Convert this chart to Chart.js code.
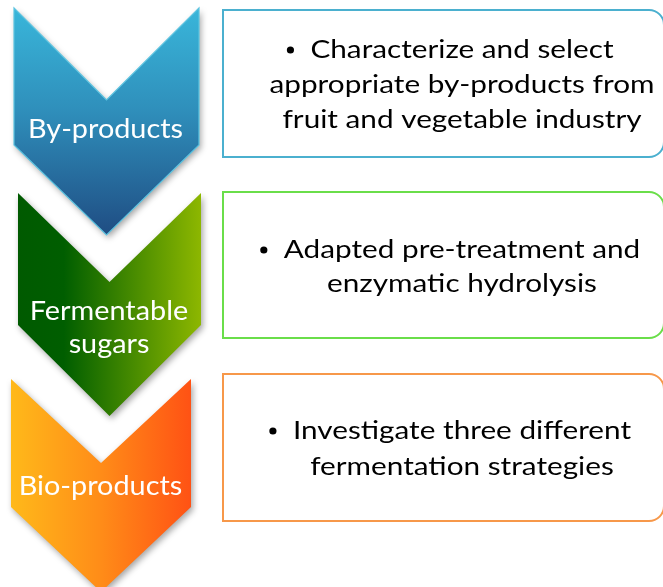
<!DOCTYPE html>
<html>
<head>
<meta charset="utf-8">
<script src="https://cdn.jsdelivr.net/npm/chart.js@4.4.1/dist/chart.umd.min.js"></script>
<style>
  html, body { margin: 0; padding: 0; background: #ffffff; }
  #wrap { width: 663px; height: 587px; position: relative; }
</style>
</head>
<body>
<div id="wrap"><canvas id="c" width="663" height="587"></canvas></div>
<script>
// ---- content (data) ----
const stages = ["By-products", "Fermentable sugars", "Bio-products"];
const stageLabelLines = [["By-products"], ["Fermentable", "sugars"], ["Bio-products"]];
const descriptions = [
  ["Characterize and select", "appropriate by-products from", "fruit and vegetable industry"],
  ["Adapted pre-treatment and", "enzymatic hydrolysis"],
  ["Investigate three different", "fermentation strategies"]
];

// ---- layout (axis units, y grows downward) ----
const chevronLeft     = [14, 18, 11];
const chevronRight    = [199, 201, 191];
const chevronTop      = [8, 193, 379];
const chevronNotch    = [100, 282, 463];
const chevronShoulder = [145, 325, 507];
const chevronTip      = [235, 416, 592];
const labelCenterX    = [105.5, 109, 100.5];
const labelBaselines  = [[138], [320, 353], [495]];

const boxLeft = 223, boxRight = 664, boxRadius = 15;
const boxTop    = [10, 192, 374];
const boxBottom = [157, 338, 521];
const descCenterX = 462;
const descBaselines = [[58, 93, 128], [258, 292], [439, 475]];

// ---- styles ----
const boxBorder = ["#4bb0cf", "#6ade4a", "#f7984a"];
const fontFamily = "Lato, 'Open Sans', sans-serif";
const labelFontPx = 27.5, descFontPx = 25;

function widthScale(ctx, fontPx, text, targetWidth) {
  ctx.font = fontPx + "px " + fontFamily;
  return targetWidth / ctx.measureText(text).width;
}

function drawScaledText(ctx, text, cx, y, sx, align) {
  ctx.save();
  ctx.translate(cx, y);
  ctx.scale(sx, 1);
  ctx.textAlign = align;
  ctx.fillText(text, 0, 0);
  ctx.restore();
}

const diagramPlugin = {
  id: 'diagram',
  afterDraw(chart) {
    const ctx = chart.ctx;
    const xs = chart.scales.x, ys = chart.scales.y;
    const X = v => xs.getPixelForValue(v);
    const Y = v => ys.getPixelForValue(v);

    const labelSx = widthScale(ctx, labelFontPx, "By-products", 155);
    const descSx = widthScale(ctx, descFontPx, "appropriate by-products from", 385);

    // chevrons
    stages.forEach((s, i) => {
      const l = X(chevronLeft[i]), r = X(chevronRight[i]);
      const cx = (l + r) / 2;
      const t = Y(chevronTop[i]), n = Y(chevronNotch[i]);
      const sh = Y(chevronShoulder[i]), tip = Y(chevronTip[i]);
      const path = new Path2D();
      path.moveTo(l, t);
      path.lineTo(cx, n);
      path.lineTo(r, t);
      path.lineTo(r, sh);
      path.lineTo(cx, tip);
      path.lineTo(l, sh);
      path.closePath();

      let grad;
      if (i === 0) {
        grad = ctx.createLinearGradient(0, t, 0, tip);
        grad.addColorStop(0, "#39b6da");
        grad.addColorStop(0.45, "#2f8fbb");
        grad.addColorStop(1, "#1f4d83");
      } else if (i === 1) {
        grad = ctx.createLinearGradient(l, 0, r, 0);
        grad.addColorStop(0, "#005a00");
        grad.addColorStop(0.25, "#005e00");
        grad.addColorStop(1, "#8db700");
      } else {
        grad = ctx.createLinearGradient(l, 0, r, 0);
        grad.addColorStop(0, "#ffb91a");
        grad.addColorStop(0.5, "#ff8c18");
        grad.addColorStop(1, "#ff5214");
      }
      ctx.save();
      ctx.shadowColor = "rgba(0,0,0,0.35)";
      ctx.shadowBlur = 6;
      ctx.shadowOffsetX = 2;
      ctx.shadowOffsetY = 3;
      ctx.fillStyle = grad;
      ctx.fill(path);
      ctx.restore();
      if (i === 0) {
        ctx.save();
        ctx.strokeStyle = "#5cc3e0";
        ctx.lineWidth = 1.2;
        ctx.stroke(path);
        ctx.restore();
      }

      ctx.save();
      ctx.fillStyle = "#ffffff";
      ctx.textBaseline = "alphabetic";
      ctx.font = labelFontPx + "px " + fontFamily;
      stageLabelLines[i].forEach((line, k) => {
        drawScaledText(ctx, line, X(labelCenterX[i]), Y(labelBaselines[i][k]), labelSx, "center");
      });
      ctx.restore();
    });

    // description boxes
    descriptions.forEach((lines, i) => {
      const l = X(boxLeft), r = X(boxRight);
      const t = Y(boxTop[i]), b = Y(boxBottom[i]);
      const rad = boxRadius;
      ctx.save();
      ctx.beginPath();
      ctx.moveTo(l, t);
      ctx.lineTo(r - rad, t);
      ctx.arcTo(r, t, r, t + rad, rad);
      ctx.lineTo(r, b - rad);
      ctx.arcTo(r, b, r - rad, b, rad);
      ctx.lineTo(l, b);
      ctx.closePath();
      ctx.fillStyle = "#ffffff";
      ctx.fill();
      ctx.strokeStyle = boxBorder[i];
      ctx.lineWidth = 2;
      ctx.stroke();

      ctx.fillStyle = "#000000";
      ctx.textBaseline = "alphabetic";
      ctx.font = descFontPx + "px " + fontFamily;
      lines.forEach((line, k) => {
        const w = ctx.measureText(line).width * descSx;
        const x0 = X(descCenterX) - w / 2;
        const y = Y(descBaselines[i][k]);
        drawScaledText(ctx, line, X(descCenterX), y, descSx, "center");
        if (k === 0) {
          ctx.beginPath();
          ctx.arc(x0 - 20, y - 8, 3.6, 0, Math.PI * 2);
          ctx.fill();
        }
      });
      ctx.restore();
    });
  }
};

new Chart(document.getElementById('c'), {
  type: 'scatter',
  data: { datasets: [{ label: 'stages', data: [], pointRadius: 0 }] },
  options: {
    responsive: false,
    animation: false,
    events: [],
    layout: { padding: 0 },
    plugins: { legend: { display: false }, tooltip: { enabled: false }, title: { display: false } },
    scales: {
      x: { type: 'linear', min: 0, max: 663, display: false },
      y: { type: 'linear', min: 0, max: 587, reverse: true, display: false }
    }
  },
  plugins: [diagramPlugin]
});
</script>
</body>
</html>
